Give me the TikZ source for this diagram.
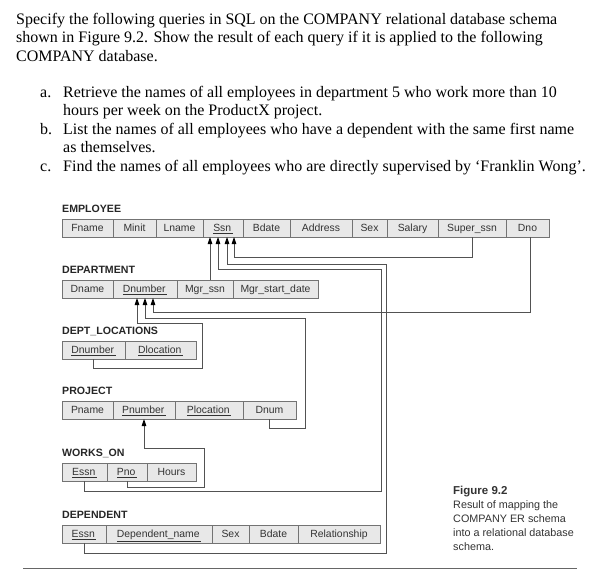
\documentclass[tikz,border=0pt]{standalone}
\usepackage{fontspec}
\setmainfont{Liberation Serif}
\newfontfamily\helv{Liberation Sans}
\usetikzlibrary{calc}
\usetikzlibrary{positioning}
\usetikzlibrary{arrows.meta}

\newcommand{\keyattr}[1]{\underline{#1\hspace{1.5pt}}}

\begin{document}
\begin{tikzpicture}[
  x=1pt,y=-1pt,
  line cap=butt,
  line join=miter,
  qline/.style={anchor=base west,inner sep=0pt,font=\fontsize{16}{18}\selectfont},
  relname/.style={anchor=west,inner sep=0pt,text=black!85,font=\helv\bfseries\fontsize{10.6}{12}\selectfont},
  cell/.style={draw=black!55,fill=black!9,text=black!80,line width=0.8pt,
    minimum height=18pt,inner sep=0pt,outer sep=0pt,text height=8.5pt,text depth=1.5pt,
    font=\helv\fontsize{10.4}{12}\selectfont},
  fkey/.style={draw=black!68,line width=0.8pt,-{Triangle[length=7pt,width=4.6pt,color=black]}},
  caption/.style={anchor=north west,inner sep=0pt,align=left,text=black!80,
    font=\helv\fontsize{10.8}{14}\selectfont}
]
  \useasboundingbox[fill=white] (0,0) rectangle (600,587);

  % Exercise text
  \node[qline] (intro1) at (16,24) {Specify the following queries in SQL on the COMPANY relational database schema};
  \node[qline] (intro2) at (16,42) {shown in Figure 9.2. Show the result of each query if it is applied to the following};
  \node[qline] (intro3) at (16,61) {COMPANY database.};
  \node[qline] (qa) at (40,97) {a.};
  \node[qline] (qa1) at (63,97) {Retrieve the names of all employees in department 5 who work more than 10};
  \node[qline] (qa2) at (63,115) {hours per week on the ProductX project.};
  \node[qline] (qb) at (40,134) {b.};
  \node[qline] (qb1) at (63,134) {List the names of all employees who have a dependent with the same first name};
  \node[qline] (qb2) at (63,152) {as themselves.};
  \node[qline] (qc) at (40,171) {c.};
  \node[qline] (qc1) at (63,171) {Find the names of all employees who are directly supervised by `Franklin Wong'.};

  % EMPLOYEE
  \node[relname] (employee) at (62,209) {EMPLOYEE};
  \node[cell,minimum width=51pt,anchor=west] (emp-fname) at (62,228) {Fname};
  \node[cell,minimum width=43pt,right=0pt of emp-fname] (emp-minit) {Minit};
  \node[cell,minimum width=47pt,right=0pt of emp-minit] (emp-lname) {Lname};
  \node[cell,minimum width=40pt,right=0pt of emp-lname] (emp-ssn) {\keyattr{Ssn}};
  \node[cell,minimum width=47pt,right=0pt of emp-ssn] (emp-bdate) {Bdate};
  \node[cell,minimum width=62pt,right=0pt of emp-bdate] (emp-address) {Address};
  \node[cell,minimum width=35pt,right=0pt of emp-address] (emp-sex) {Sex};
  \node[cell,minimum width=51pt,right=0pt of emp-sex] (emp-salary) {Salary};
  \node[cell,minimum width=68pt,right=0pt of emp-salary] (emp-superssn) {Super\_ssn};
  \node[cell,minimum width=43pt,right=0pt of emp-superssn] (emp-dno) {Dno};

  % DEPARTMENT
  \node[relname] (department) at (62,270) {DEPARTMENT};
  \node[cell,minimum width=51pt,anchor=west] (dept-dname) at (62,289) {Dname};
  \node[cell,minimum width=64pt,right=0pt of dept-dname] (dept-dnumber) {\keyattr{Dnumber}};
  \node[cell,minimum width=56pt,right=0pt of dept-dnumber] (dept-mgrssn) {Mgr\_ssn};
  \node[cell,minimum width=85pt,right=0pt of dept-mgrssn] (dept-mgrdate) {Mgr\_start\_date};

  % DEPT_LOCATIONS
  \node[relname] (deptlocations) at (62,331) {DEPT\_LOCATIONS};
  \node[cell,minimum width=63pt,anchor=west] (loc-dnumber) at (62,350) {\keyattr{Dnumber}};
  \node[cell,minimum width=71pt,right=0pt of loc-dnumber] (loc-dlocation) {\keyattr{Dlocation}};

  % PROJECT
  \node[relname] (project) at (62,391) {PROJECT};
  \node[cell,minimum width=51pt,anchor=west] (proj-pname) at (62,410) {Pname};
  \node[cell,minimum width=62pt,right=0pt of proj-pname] (proj-pnumber) {\keyattr{Pnumber}};
  \node[cell,minimum width=68pt,right=0pt of proj-pnumber] (proj-plocation) {\keyattr{Plocation}};
  \node[cell,minimum width=53pt,right=0pt of proj-plocation] (proj-dnum) {Dnum};

  % WORKS_ON
  \node[relname] (workson) at (62,453) {WORKS\_ON};
  \node[cell,minimum width=45pt,anchor=west] (works-essn) at (62,472) {\keyattr{Essn}};
  \node[cell,minimum width=40pt,right=0pt of works-essn] (works-pno) {\keyattr{Pno}};
  \node[cell,minimum width=49pt,right=0pt of works-pno] (works-hours) {Hours};

  % DEPENDENT
  \node[relname] (dependent) at (62,515) {DEPENDENT};
  \node[cell,minimum width=44pt,anchor=west] (dep-essn) at (62,534) {\keyattr{Essn}};
  \node[cell,minimum width=106pt,right=0pt of dep-essn] (dep-name) {\keyattr{Dependent\_name}};
  \node[cell,minimum width=37pt,right=0pt of dep-name] (dep-sex) {Sex};
  \node[cell,minimum width=49pt,right=0pt of dep-sex] (dep-bdate) {Bdate};
  \node[cell,minimum width=82pt,right=0pt of dep-bdate] (dep-relationship) {Relationship};

  % Arrow ends on the keys
  \coordinate (ssn-a) at ($(emp-ssn.south west)+(7,0)$);
  \coordinate (ssn-b) at ($(emp-ssn.south west)+(15,0)$);
  \coordinate (ssn-c) at ($(emp-ssn.south west)+(24,0)$);
  \coordinate (ssn-d) at ($(emp-ssn.south west)+(31,0)$);
  \coordinate (dnum-a) at ($(dept-dnumber.south west)+(24,0)$);
  \coordinate (dnum-b) at ($(dept-dnumber.south west)+(32,0)$);
  \coordinate (dnum-c) at ($(dept-dnumber.south west)+(40,0)$);

  % Foreign keys
  \draw[fkey] (dept-mgrssn.north -| ssn-a) -- (ssn-a);
  \draw[fkey] (emp-superssn.south) -- ++(0,20) -| (ssn-d);
  \draw[fkey] (works-essn.south) -- ++(0,10) -| (381,269) -| (ssn-b);
  \draw[fkey] (dep-essn.south) -- ++(0,10) -| (386,264) -| (ssn-c);
  \draw[fkey] ($(emp-dno.south)+(3,0)$) -- ++(0,75) -| (dnum-c);
  \draw[fkey] (proj-dnum.south) -- ++(0,9) -| (305,318) -| (dnum-b);
  \draw[fkey] (loc-dnumber.south) -- ++(0,9) -| (202,323) -| (dnum-a);
  \draw[fkey] (works-pno.south) -- ++(0,6) -| (204,448) -| (proj-pnumber.south);

  % Caption
  \node[caption] (figcaption) at (453,486) {{\bfseries\fontsize{11.5}{14}\selectfont Figure 9.2}\\Result of mapping the\\COMPANY ER schema\\into a relational database\\schema.};

  \draw[black!60,line width=1pt] (23,568) -- (577,568);
\end{tikzpicture}
\end{document}
